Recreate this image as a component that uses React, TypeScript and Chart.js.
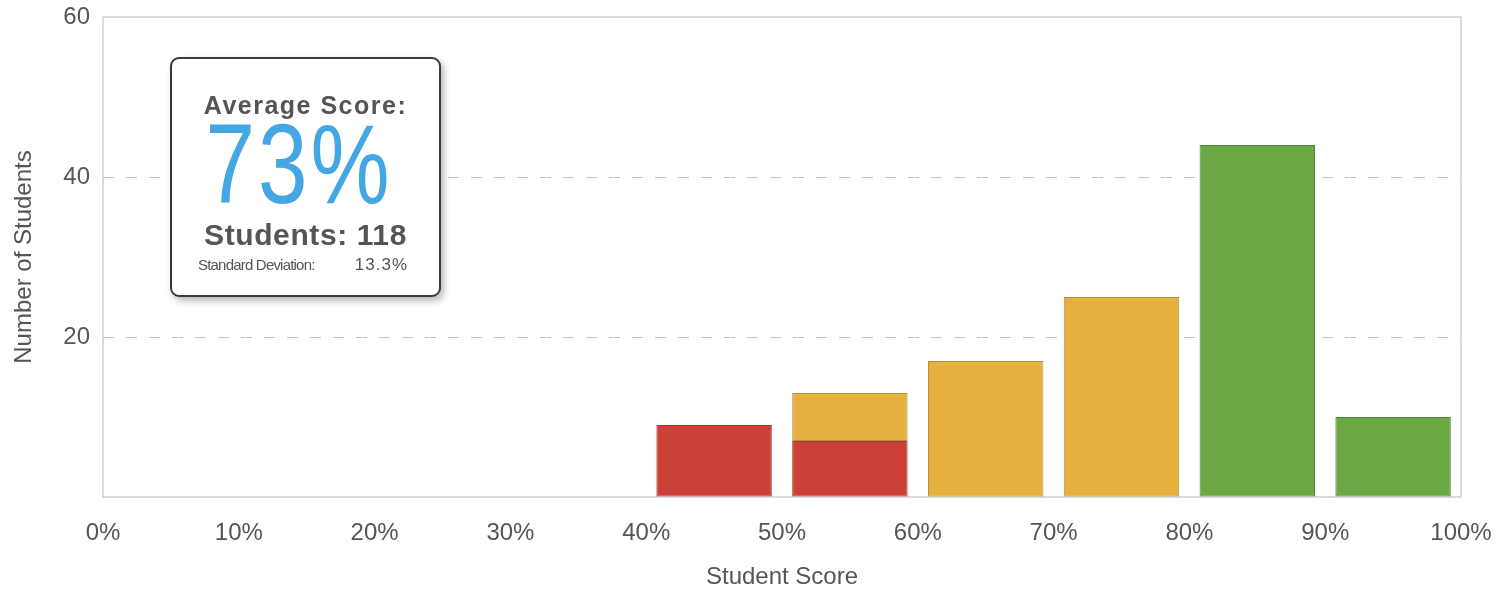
import React, { useEffect, useRef } from "react";
import { Chart, registerables } from "chart.js";

Chart.register(...registerables);

// ---- data ----
const binCenters = [45, 55, 65, 75, 85, 95]; // score bins 40-50%, 50-60%, ...
const failingCounts: (number | null)[] = [9, 7, null, null, null, null];
const passingCounts: (number | null)[] = [null, 6, 17, 25, null, null];
const excellentCounts: (number | null)[] = [null, null, null, null, 44, 10];
const yTickValues = [20, 40, 60];
const averageScore = 73;
const studentCount = 118;
const standardDeviation = 13.3;

const FONT = '"Liberation Sans", Arial, Helvetica, sans-serif';
const TEXT = "#555555";

function toPoints(vals: (number | null)[]) {
  const pts: { x: number; y: number }[] = [];
  vals.forEach((v, i) => {
    if (v !== null) pts.push({ x: binCenters[i], y: v });
  });
  return pts;
}

const plotBorder = {
  id: "plotBorder",
  beforeDatasetsDraw(chart: any) {
    const { ctx, chartArea } = chart;
    ctx.save();
    ctx.strokeStyle = "#cfcfcf";
    ctx.lineWidth = 1.5;
    ctx.strokeRect(chartArea.left, chartArea.top, chartArea.right - chartArea.left, chartArea.bottom - chartArea.top);
    ctx.restore();
  },
};

export default function App() {
  const ref = useRef<HTMLCanvasElement>(null);
  useEffect(() => {
    document.body.style.margin = "0";
    const chart = new Chart(ref.current as HTMLCanvasElement, {
      type: "bar",
      data: {
        datasets: [
          {
            label: "Below 60%",
            data: toPoints(failingCounts) as any,
            backgroundColor: "#cb4037",
            borderColor: "#a3352d",
            borderWidth: 1,
            borderSkipped: false,
          },
          {
            label: "60-80%",
            data: toPoints(passingCounts) as any,
            backgroundColor: "#e5b03d",
            borderColor: "#b8913f",
            borderWidth: 1,
            borderSkipped: false,
          },
          {
            label: "80%+",
            data: toPoints(excellentCounts) as any,
            backgroundColor: "#6aa843",
            borderColor: "#4f8a34",
            borderWidth: 1,
            borderSkipped: false,
          },
        ],
      },
      options: {
        responsive: false,
        animation: false,
        layout: { padding: { top: 17, right: 37, bottom: 0, left: 0 } },
        datasets: { bar: { barPercentage: 0.85, categoryPercentage: 1 } },
        plugins: { legend: { display: false }, tooltip: { enabled: false } },
        scales: {
          x: {
            type: "linear",
            stacked: true,
            min: 0,
            max: 100,
            offset: false,
            grid: { display: false, offset: false, drawTicks: false },
            border: { display: false },
            ticks: {
              stepSize: 10,
              padding: 22,
              color: TEXT,
              font: { family: FONT, size: 24 },
              callback: (v: any) => v + "%",
            },
            title: {
              display: true,
              text: "Student Score",
              color: TEXT,
              font: { family: FONT, size: 24 },
              padding: { top: 0, bottom: -2 },
            },
            afterFit: (s: any) => {
              s.height = 93;
              s.paddingLeft = 0;
              s.paddingRight = 0;
            },
          } as any,
          y: {
            stacked: true,
            min: 0,
            max: 60,
            afterBuildTicks: (s: any) => {
              s.ticks = [0, ...yTickValues].map((v) => ({ value: v }));
            },
            grid: {
              drawTicks: false,
              lineWidth: 1,
              color: (c: any) => (c.tick && yTickValues.slice(0, -1).includes(c.tick.value) ? "#c4c4c4" : "rgba(0,0,0,0)"),
            },
            border: { display: false, dash: [11, 12] },
            ticks: {
              padding: 13,
              color: TEXT,
              font: { family: FONT, size: 24 },
              callback: (v: any) => (v === 0 ? "" : String(v)),
            },
            title: {
              display: true,
              text: "Number of Students",
              color: TEXT,
              font: { family: FONT, size: 24 },
              padding: { top: 10, bottom: 0 },
            },
            afterFit: (s: any) => {
              s.width = 103;
              s.paddingTop = 0;
              s.paddingBottom = 0;
            },
          } as any,
        },
      },
      plugins: [plotBorder],
    });
    return () => chart.destroy();
  }, []);

  const line = (top: number, lh: number): React.CSSProperties => ({
    position: "absolute",
    left: 0,
    width: "100%",
    top,
    lineHeight: lh + "px",
    textAlign: "center",
    whiteSpace: "nowrap",
  });

  return (
    <div style={{ position: "relative", width: 1498, height: 590, fontFamily: FONT }}>
      <canvas ref={ref} width={1498} height={590} style={{ display: "block" }} />
      <div
        style={{
          position: "absolute",
          left: 170,
          top: 57,
          width: 271,
          height: 240,
          boxSizing: "border-box",
          border: "2px solid #3c3c3c",
          borderRadius: 9,
          background: "#ffffff",
          boxShadow: "3px 4px 7px rgba(0,0,0,0.28)",
          color: TEXT,
        }}
      >
        <div style={{ ...line(31, 30), fontSize: 25, fontWeight: 700, letterSpacing: 1.5 }}>Average Score:</div>
        <div style={{ ...line(47, 116), fontSize: 114, color: "#44a7e3" }}>
          <span
            style={{
              display: "inline-block",
              transform: "translateX(-6px) scaleX(0.78)",
              transformOrigin: "center",
              letterSpacing: 4,
            }}
          >
            {averageScore}%
          </span>
        </div>
        <div style={{ ...line(159, 34), fontSize: 30, fontWeight: 700, letterSpacing: 0.6 }}>Students: {studentCount}</div>
        <div
          style={{
            position: "absolute",
            left: 26,
            top: 197,
            lineHeight: "18px",
            fontSize: 15,
            letterSpacing: -0.8,
            whiteSpace: "nowrap",
          }}
        >
          Standard Deviation:
        </div>
        <div
          style={{
            position: "absolute",
            right: 31,
            top: 196,
            lineHeight: "20px",
            fontSize: 17,
            letterSpacing: 1,
            whiteSpace: "nowrap",
          }}
        >
          {standardDeviation}%
        </div>
      </div>
    </div>
  );
}
